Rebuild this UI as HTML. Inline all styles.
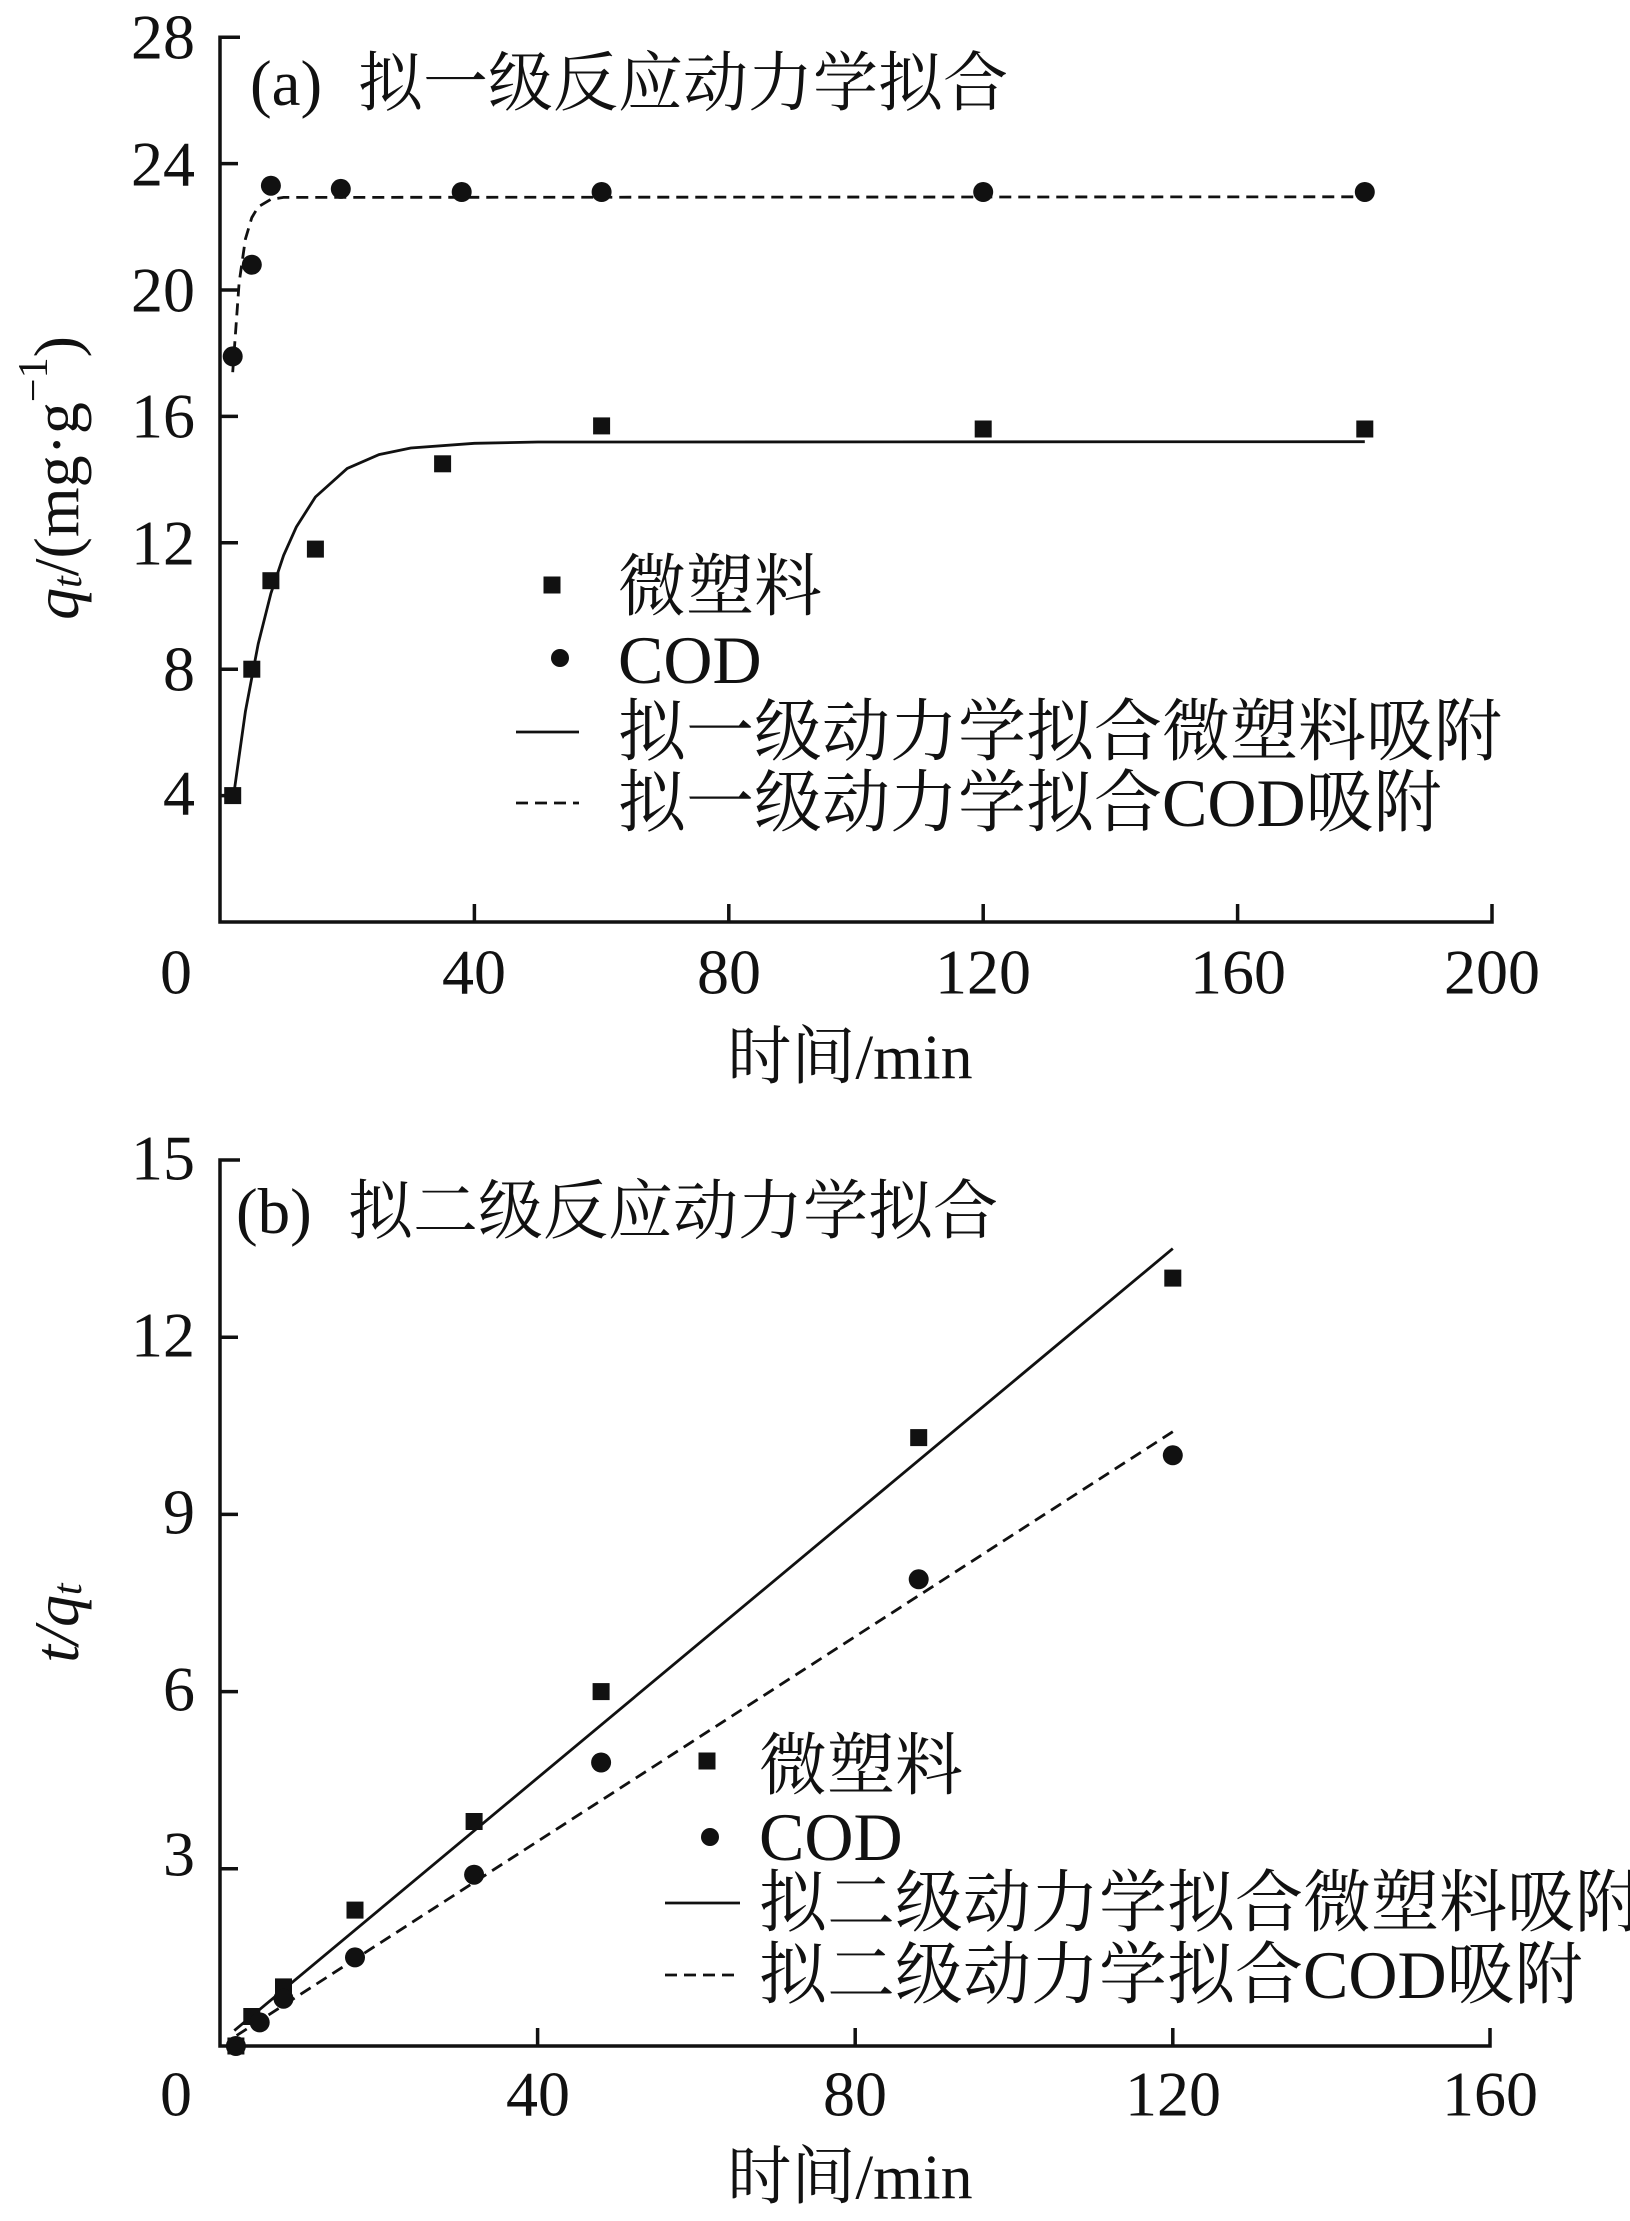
<!DOCTYPE html>
<html><head><meta charset="utf-8"><style>
html,body{margin:0;padding:0;background:#fff;}
svg{display:block;}
text{font-family:"Liberation Serif","Noto Serif CJK SC","Noto Sans CJK SC",serif;fill:#111;}
</style></head><body>
<svg width="1630" height="2221" viewBox="0 0 1630 2221" xmlns="http://www.w3.org/2000/svg">
<g stroke="#111" stroke-width="3.5" fill="none">
<path d="M240 37.2H220V922H1492V904"/>
<path d="M220 163.6h18M220 290h18M220 416.4h18M220 542.8h18M220 669.2h18M220 795.6h18"/>
<path d="M474.4 922v-18M728.8 922v-18M983.2 922v-18M1237.6 922v-18"/>
<path d="M240 1160H220V2046H1490V2028"/>
<path d="M220 1337.2h18M220 1514.4h18M220 1691.6h18M220 1868.8h18"/>
<path d="M537.6 2046v-18M855.2 2046v-18M1172.8 2046v-18"/>
</g>
<g fill="none" stroke="#111" stroke-width="2.8">
<path d="M232.7 801.9L245.4 711.5L258.2 643.9L270.9 593.4L283.6 555.4L296.3 527L315.4 497L347.2 468.5L379 454.6L410.8 448L474.4 443.3L538 442L1364.8 441.7"/>
<path stroke-dasharray="12 7" d="M232.7 372.2L239.1 283L245.4 239.1L251.8 217.6L258.2 206.9L270.9 199.3L283.6 197.4L1364.8 196.8"/>
<path d="M1172.8 1248.6L234.3 2030.6"/>
<path stroke-dasharray="12 7" d="M1172.8 1431.7L234.3 2037"/>
<path d="M516 732H579"/>
<path stroke-dasharray="12 7" d="M516 803H579"/>
<path d="M665 1903H740"/>
<path stroke-dasharray="12 7" d="M665 1975H740"/>
</g>
<g fill="#111">
<g transform="translate(-8.5,-8.5)">
<rect x="232.7" y="795.6" width="17" height="17"/><rect x="251.8" y="669.2" width="17" height="17"/>
<rect x="270.9" y="580.7" width="17" height="17"/><rect x="315.4" y="549.1" width="17" height="17"/>
<rect x="442.6" y="463.8" width="17" height="17"/><rect x="601.6" y="425.9" width="17" height="17"/>
<rect x="983.2" y="429" width="17" height="17"/><rect x="1364.8" y="429" width="17" height="17"/>
<rect x="552" y="585" width="17" height="17"/>
<rect x="235.9" y="2046" width="17" height="17"/><rect x="251.8" y="2016.5" width="17" height="17"/>
<rect x="283.5" y="1986.9" width="17" height="17"/><rect x="355" y="1910.1" width="17" height="17"/>
<rect x="474.1" y="1821.5" width="17" height="17"/><rect x="601.1" y="1691.6" width="17" height="17"/>
<rect x="918.7" y="1437.6" width="17" height="17"/><rect x="1172.8" y="1278.1" width="17" height="17"/>
<rect x="707" y="1761" width="17" height="17"/>
</g>
<circle cx="232.7" cy="356.4" r="10"/><circle cx="251.8" cy="264.7" r="10"/><circle cx="270.9" cy="185.7" r="10"/>
<circle cx="340.8" cy="188.9" r="10"/><circle cx="461.7" cy="192" r="10"/><circle cx="601.6" cy="192" r="10"/>
<circle cx="983.2" cy="192" r="10"/><circle cx="1364.8" cy="192" r="10"/>
<circle cx="560" cy="658" r="9"/>
<circle cx="235.9" cy="2046" r="10"/><circle cx="259.7" cy="2022.4" r="10"/><circle cx="283.5" cy="1998.7" r="10"/>
<circle cx="355" cy="1957.4" r="10"/><circle cx="474.1" cy="1874.7" r="10"/><circle cx="601.1" cy="1762.5" r="10"/>
<circle cx="918.7" cy="1579.3" r="10"/><circle cx="1172.8" cy="1455.3" r="10"/>
<circle cx="710" cy="1837" r="9"/>
</g>
<g font-size="64" text-anchor="end" dominant-baseline="central">
<text x="195" y="37">28</text><text x="195" y="164">24</text><text x="195" y="290">20</text>
<text x="195" y="416">16</text><text x="195" y="543">12</text><text x="195" y="669">8</text><text x="195" y="793">4</text>
<text x="195" y="1158">15</text><text x="195" y="1335">12</text><text x="195" y="1512">9</text>
<text x="195" y="1689">6</text><text x="195" y="1854">3</text>
</g>
<g font-size="64" text-anchor="middle" dominant-baseline="central">
<text x="176" y="972">0</text><text x="474" y="972">40</text><text x="729" y="972">80</text>
<text x="983" y="972">120</text><text x="1238" y="972">160</text><text x="1492" y="972">200</text>
<text x="176" y="2094">0</text><text x="538" y="2094">40</text><text x="855" y="2094">80</text>
<text x="1173" y="2094">120</text><text x="1490" y="2094">160</text>
<text x="850" y="1057" font-size="64">时间/min</text>
<text x="850" y="2177" font-size="64">时间/min</text>
</g>
<text font-size="64" text-anchor="middle" dominant-baseline="central" transform="translate(56,478) rotate(-90)"><tspan font-style="italic">q</tspan><tspan font-style="italic" font-size="42" dy="12">t</tspan><tspan dy="-12">/(mg·g</tspan><tspan font-size="42" dy="-22">−1</tspan><tspan dy="22">)</tspan></text>
<text font-size="64" text-anchor="middle" dominant-baseline="central" transform="translate(56,1623) rotate(-90)"><tspan font-style="italic">t/q</tspan><tspan font-style="italic" font-size="42" dy="12">t</tspan></text>
<g font-size="65" dominant-baseline="central">
<text x="250" y="84">(a)</text><text x="358" y="84">拟一级反应动力学拟合</text>
<text x="236" y="1212">(b)</text><text x="348" y="1212">拟二级反应动力学拟合</text>
</g>
<g font-size="68" dominant-baseline="central">
<text x="618" y="587">微塑料</text>
<text x="618" y="660">COD</text>
<text x="618" y="732">拟一级动力学拟合微塑料吸附</text>
<text x="618" y="803">拟一级动力学拟合COD吸附</text>
<text x="759" y="1766">微塑料</text>
<text x="759" y="1837">COD</text>
<text x="759" y="1903">拟二级动力学拟合微塑料吸附</text>
<text x="759" y="1975">拟二级动力学拟合COD吸附</text>
</g>
</svg>
</body></html>
